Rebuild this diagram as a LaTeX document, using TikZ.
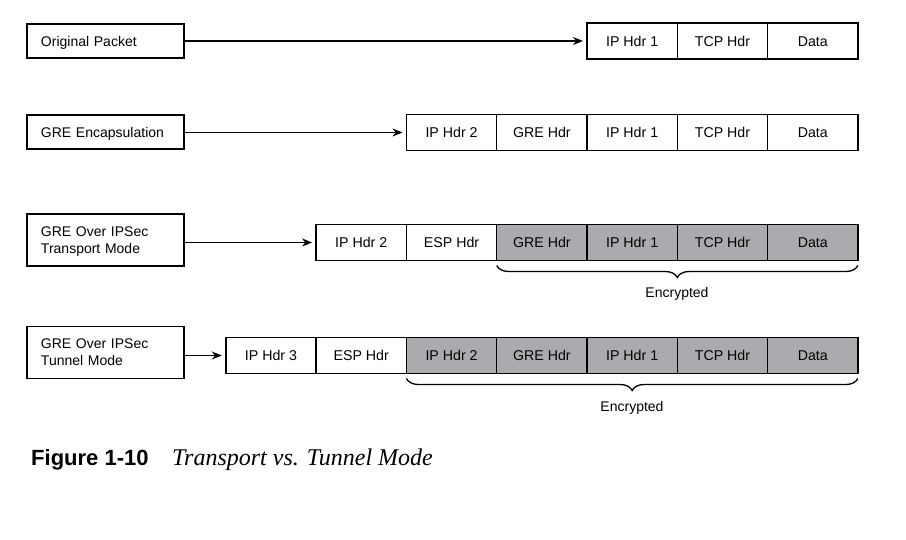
\documentclass[tikz,border=0pt]{standalone}
\usepackage{fontspec}
\setmainfont{Liberation Sans}
\newfontfamily\capserif{Liberation Serif}
\usetikzlibrary{positioning,arrows.meta,decorations.pathreplacing}

\definecolor{encgray}{HTML}{AAABAE}

\tikzstyle{lblbox}=[draw,
                    line width=1.8pt,
                    outer sep=0pt,
                    minimum width=157pt,
                    minimum height=34pt,
                    text width=129pt,
                    inner xsep=14pt,
                    align=left,
                    text depth=0pt,
                    font=\fontsize{14}{17}\selectfont]
\tikzstyle{twoline}=[minimum height=52pt, text depth=17pt]
\tikzstyle{cell}=[draw,
                  line width=1.4pt,
                  outer sep=0pt,
                  minimum width=90.3pt,
                  minimum height=36pt,
                  inner sep=0pt,
                  text height=10.2pt,
                  text depth=0pt,
                  font=\fontsize{14.2}{17}\selectfont]
\tikzstyle{enc}=[cell, fill=encgray]
\tikzstyle{feed}=[line width=1.4pt, -{Stealth[length=10pt,width=8pt]}]
\tikzstyle{encbrace}=[line width=1.3pt, decorate,
                      decoration={brace, mirror, amplitude=12pt}]

\begin{document}
\begin{tikzpicture}[x=1pt,y=-1pt]
    \useasboundingbox (0,0) rectangle (906,540);

    % original packet
    \node [lblbox] (orig) at (105.5,41) {Original Packet};
    \node [cell, anchor=west] (a1) at (587,41) {IP Hdr 1};
    \node [cell, right=0pt of a1] (a2) {TCP Hdr};
    \node [cell, right=0pt of a2] (a3) {Data};
    \draw [feed] (orig.east) -- ([xshift=-4pt]a1.west);

    % gre
    \node [lblbox] (gre) at (105.5,132) {GRE Encapsulation};
    \node [cell, anchor=west] (b1) at (406.4,132.5) {IP Hdr 2};
    \node [cell, right=0pt of b1] (b2) {GRE Hdr};
    \node [cell, right=0pt of b2] (b3) {IP Hdr 1};
    \node [cell, right=0pt of b3] (b4) {TCP Hdr};
    \node [cell, right=0pt of b4] (b5) {Data};
    \draw [feed] (gre.east |- b1.west) -- ([xshift=-4pt]b1.west);

    % gre over ipsec, transport
    \node [lblbox, twoline] (trans) at (105.5,240)
          {GRE Over IPSec\\Transport Mode};
    \node [cell, anchor=west] (c1) at (316.1,242.5) {IP Hdr 2};
    \node [cell, right=0pt of c1] (c2) {ESP Hdr};
    \node [enc, right=0pt of c2] (c3) {GRE Hdr};
    \node [enc, right=0pt of c3] (c4) {IP Hdr 1};
    \node [enc, right=0pt of c4] (c5) {TCP Hdr};
    \node [enc, right=0pt of c5] (c6) {Data};
    \draw [feed] (trans.east |- c1.west) -- ([xshift=-4pt]c1.west);
    \draw [encbrace] ([yshift=-5pt]c3.south west) -- ([yshift=-5pt]c6.south east);
    \node [font=\fontsize{14}{17}\selectfont] (enc1) at (677,294) {Encrypted};

    % gre over ipsec, tunnel
    \node [lblbox, twoline] (tun) at (105.5,352.5)
          {GRE Over IPSec\\Tunnel Mode};
    \node [cell, anchor=west] (d1) at (225.8,355.5) {IP Hdr 3};
    \node [cell, right=0pt of d1] (d2) {ESP Hdr};
    \node [enc, right=0pt of d2] (d3) {IP Hdr 2};
    \node [enc, right=0pt of d3] (d4) {GRE Hdr};
    \node [enc, right=0pt of d4] (d5) {IP Hdr 1};
    \node [enc, right=0pt of d5] (d6) {TCP Hdr};
    \node [enc, right=0pt of d6] (d7) {Data};
    \draw [feed] (tun.east |- d1.west) -- ([xshift=-4pt]d1.west);
    \draw [encbrace] ([yshift=-5pt]d3.south west) -- ([yshift=-5pt]d7.south east);
    \node [font=\fontsize{14}{17}\selectfont] (enc2) at (632,408) {Encrypted};

    % caption
    \node [anchor=base west, inner sep=0pt, font=\fontsize{22}{26}\selectfont\bfseries]
          (fignum) at (31,465) {Figure 1-10};
    \node [anchor=base west, inner sep=0pt, font=\fontsize{24}{28}\selectfont\capserif\itshape]
          (figtitle) at (172,465) {Transport vs. Tunnel Mode};
\end{tikzpicture}
\end{document}
